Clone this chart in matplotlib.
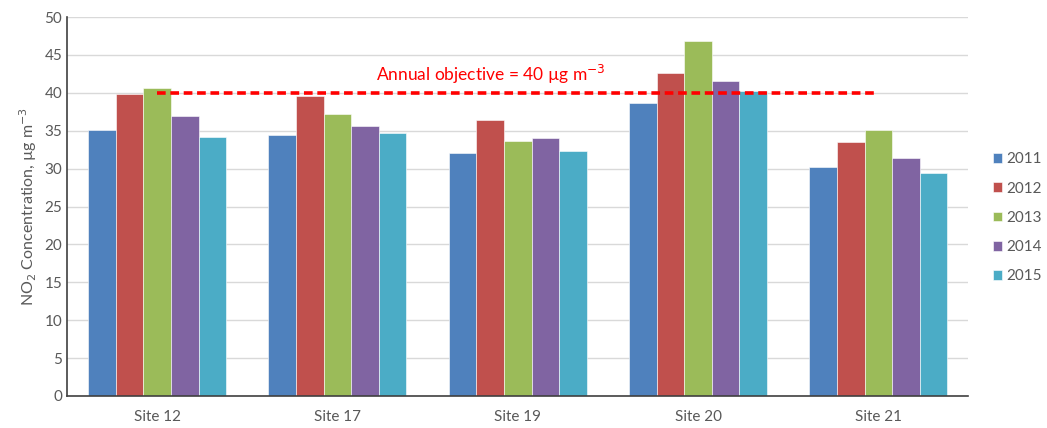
import numpy as np
import matplotlib.pyplot as plt

plt.rcParams['font.family'] = ['Lato', 'DejaVu Sans']

# Annual mean NO2 per site and year
sites = ['Site 12', 'Site 17', 'Site 19', 'Site 20', 'Site 21']
years = ['2011', '2012', '2013', '2014', '2015']
no2_2011 = [35.1, 34.4, 32.1, 38.6, 30.2]
no2_2012 = [39.8, 39.6, 36.4, 42.6, 33.5]
no2_2013 = [40.6, 37.2, 33.6, 46.8, 35.1]
no2_2014 = [36.9, 35.6, 34.0, 41.6, 31.4]
no2_2015 = [34.2, 34.7, 32.3, 40.2, 29.4]
objective = 40

series = [no2_2011, no2_2012, no2_2013, no2_2014, no2_2015]
colors = ['#4F81BD', '#C0504D', '#9BBB59', '#8064A2', '#4BACC6']
text_grey = '#595959'

fig = plt.figure(figsize=(10.47, 4.28), dpi=100)
ax = fig.add_axes([0.064, 0.075, 0.861, 0.885])

x = np.arange(len(sites))
w = 0.153
for i, (vals, yr) in enumerate(zip(series, years)):
    ax.bar(x + (i - 2) * w, vals, w, color=colors[i], label=yr,
           edgecolor='white', linewidth=0.4, zorder=2)

ax.plot([x[0], x[-1]], [objective, objective], color='#FF0000',
        linestyle=(0, (2.4, 1.3)), linewidth=2.6, zorder=3)
ax.text(1.85, objective + 2.4, 'Annual objective = %d µg m$^{-3}$' % objective,
        color='#FF0000', fontsize=12.5, ha='center', va='center')

ax.set_xlim(-0.5, 4.5)
ax.set_ylim(0, 50)
ax.set_yticks(np.arange(0, 51, 5))
ax.set_xticks(x)
ax.set_xticklabels(sites)
ax.yaxis.grid(True, color='#D9D9D9', linewidth=1, zorder=0)
ax.set_axisbelow(True)
ax.tick_params(axis='both', length=0, labelsize=11, colors=text_grey)
ax.tick_params(axis='x', pad=10)
for s in ['top', 'right']:
    ax.spines[s].set_visible(False)
for s in ['left', 'bottom']:
    ax.spines[s].set_color('#404040')
    ax.spines[s].set_linewidth(1.2)
ax.set_ylabel('NO$_2$ Concentration, µg m$^{-3}$', fontsize=11.5, color=text_grey)

ax.legend(loc='center left', bbox_to_anchor=(1.012, 0.47), frameon=False,
          fontsize=11, labelcolor=text_grey, handlelength=0.6, handleheight=0.6,
          handletextpad=0.3, labelspacing=1.0)

fig.savefig('out.png', dpi=100)
